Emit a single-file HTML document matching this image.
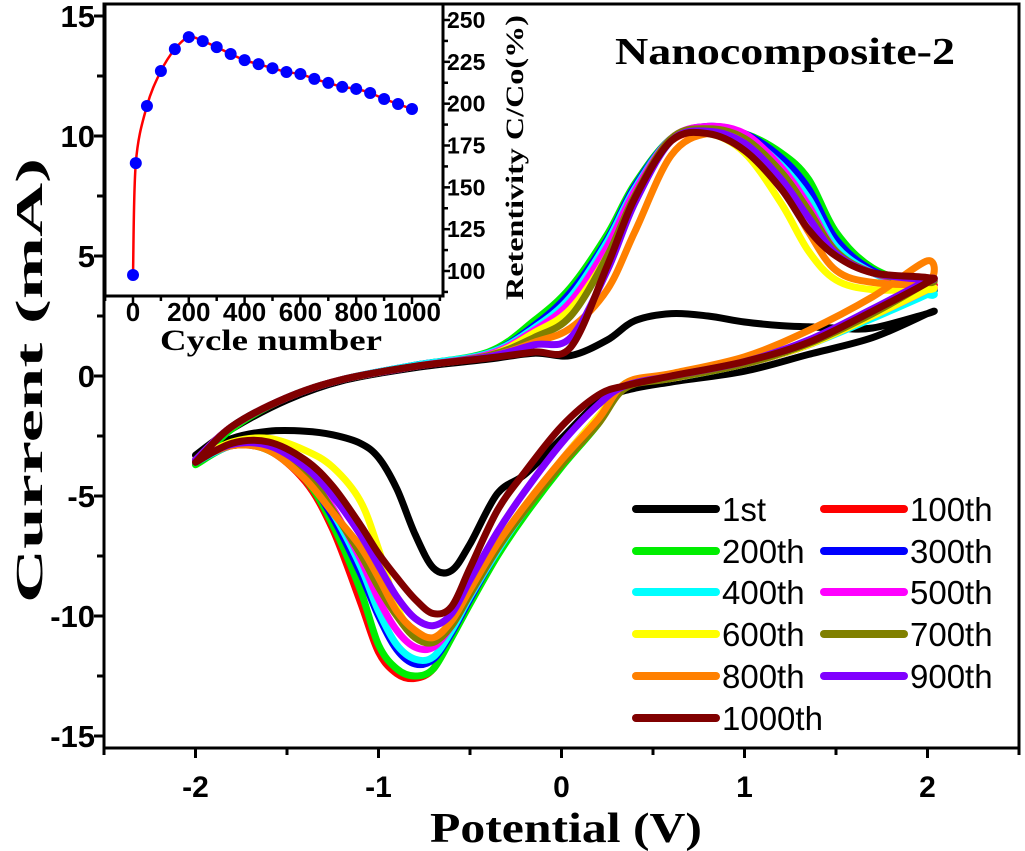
<!DOCTYPE html>
<html><head><meta charset="utf-8"><style>
html,body{margin:0;padding:0;background:#fff;}
svg{display:block;}
.sans{font-family:"Liberation Sans",Arial,sans-serif;font-weight:bold;}
.serif{font-family:"Liberation Serif","Times New Roman",serif;font-weight:bold;}
</style></head><body>
<svg id="chart" width="1025" height="851" viewBox="0 0 1025 851" xmlns="http://www.w3.org/2000/svg">
<g id="curves"></g>
<g id="axes"></g>
<g id="inset"></g>
<g id="legend"></g>
<text class="serif" x="615" y="64" font-size="38" textLength="340" lengthAdjust="spacingAndGlyphs">Nanocomposite-2</text>
<text class="serif" x="430" y="842" font-size="42" textLength="272" lengthAdjust="spacingAndGlyphs">Potential (V)</text>
<text class="serif" transform="translate(42,603) rotate(-90)" font-size="38" textLength="445" lengthAdjust="spacingAndGlyphs">Current (mA)</text>
</svg>
<script>
const EF = [-2,-1.8,-1.5,-1.2,-0.8,-0.4,-0.15,0.05,0.25,0.4,0.6,0.8,1.0,1.2,1.35,1.5,1.7,2.0];
const ER = [2,1.7,1.35,1,0.6,0.35,0.2,0,-0.2,-0.35,-0.5,-0.6,-0.7,-0.8,-0.9,-1.0,-1.1,-1.25,-1.4,-1.6,-1.8,-2];
const seriesNames = ["1st","100th","200th","300th","400th","500th","600th","700th","800th","900th","1000th"];
const seriesColors = ["#000000","#ff0000","#00ee00","#0000ff","#00ffff","#ff00ff","#ffff00","#808000","#ff8000","#8000ff","#800000"];
const fwd1 = [-3.3,-2.2,-1.0,-0.2,0.35,0.7,0.95,0.85,1.5,2.3,2.6,2.5,2.25,2.1,2.05,2.0,2.0,2.6];
const fwd100 = [-3.5,-2.1,-0.9,-0.15,0.4,0.85,1.7,3.2,5.5,7.8,9.8,10.2,10.0,9.0,7.6,5.6,4.4,3.9];
const fwd200 = [-3.7,-2.2,-0.9,-0.15,0.45,1.0,2.3,3.7,5.9,8.0,9.9,10.3,10.1,9.3,8.2,6.0,4.5,3.6];
const fwd300 = [-3.6,-2.1,-0.9,-0.15,0.45,0.95,2.1,3.5,5.7,7.9,9.9,10.4,10.1,9.1,7.8,5.7,4.4,3.6];
const fwd400 = [-3.6,-2.1,-0.9,-0.15,0.45,0.95,2.0,3.3,5.6,7.8,9.9,10.3,10.0,8.8,7.4,5.4,4.3,3.4];
const fwd500 = [-3.5,-2.1,-0.9,-0.15,0.4,0.9,1.9,3.1,5.4,7.7,9.9,10.4,10.1,8.7,7.1,5.2,4.3,3.7];
const fwd600 = [-3.5,-2.1,-0.9,-0.15,0.4,0.85,1.8,2.8,5.0,7.4,9.8,10.1,9.3,7.2,5.2,4.0,3.6,3.6];
const fwd700 = [-3.5,-2.1,-0.9,-0.15,0.4,0.85,1.6,2.5,5.0,7.5,9.9,10.3,9.9,8.5,6.9,5.2,4.3,3.9];
const fwd800 = [-3.5,-2.1,-0.9,-0.15,0.4,0.8,1.4,2.0,3.6,6.0,9.2,10.1,9.7,8.0,6.0,4.4,3.9,3.9];
const fwd900 = [-3.5,-2.1,-0.9,-0.15,0.4,0.8,1.3,1.6,4.4,7.2,9.8,10.2,9.7,8.2,6.6,5.1,4.3,4.0];
const fwd1000 = [-3.6,-2.1,-0.9,-0.15,0.4,0.75,1.0,1.2,4.6,7.4,9.8,10.1,9.4,7.8,6.1,5.0,4.3,4.1];
const rev1 = [2.6,1.6,0.9,0.2,-0.25,-0.6,-1.1,-2.6,-4.1,-4.9,-7.0,-8.1,-8.0,-6.6,-4.7,-3.4,-2.8,-2.45,-2.3,-2.3,-2.6,-3.3];
const rev100 = [3.6,2.5,1.3,0.5,-0.1,-0.4,-1.8,-3.6,-5.6,-7.3,-9.3,-10.8,-12.2,-12.6,-12.4,-11.5,-9.4,-6.4,-4.4,-3.1,-2.9,-3.5];
const rev200 = [3.5,2.5,1.3,0.5,-0.1,-0.3,-2.0,-3.8,-5.8,-7.5,-9.5,-10.9,-12.2,-12.5,-12.2,-11.2,-8.9,-6.2,-4.3,-3.1,-2.9,-3.7];
const rev300 = [3.6,2.5,1.3,0.5,-0.1,-0.4,-1.8,-3.6,-5.6,-7.3,-9.3,-10.7,-11.8,-12.0,-11.4,-10.0,-8.2,-5.9,-4.2,-3.0,-2.9,-3.6];
const rev400 = [3.4,2.4,1.3,0.5,-0.1,-0.4,-1.8,-3.6,-5.6,-7.3,-9.2,-10.6,-11.7,-11.8,-11.2,-9.8,-7.9,-5.7,-4.1,-3.0,-2.9,-3.6];
const rev500 = [3.6,2.5,1.3,0.5,-0.1,-0.4,-1.7,-3.5,-5.5,-7.2,-9.1,-10.4,-11.3,-11.3,-10.6,-9.3,-7.6,-5.5,-4.0,-2.95,-2.9,-3.5];
const rev600 = [3.6,2.5,1.3,0.5,-0.1,-0.4,-1.7,-3.5,-5.4,-7.0,-8.9,-10.2,-11.0,-10.8,-9.6,-7.2,-5.2,-3.8,-3.1,-2.6,-2.75,-3.5];
const rev700 = [3.9,2.6,1.35,0.5,-0.1,-0.5,-2.0,-3.7,-5.6,-7.2,-9.1,-10.4,-11.1,-10.9,-10.0,-8.8,-7.4,-5.6,-4.0,-3.0,-2.9,-3.5];
const rev800 = [4.8,3.3,1.9,0.8,0.1,-0.3,-1.8,-3.5,-5.4,-7.0,-8.9,-10.2,-10.9,-10.6,-9.8,-8.4,-7.1,-5.7,-4.3,-3.1,-2.9,-3.5];
const rev900 = [4.0,2.8,1.5,0.6,0,-0.4,-1.2,-2.8,-4.8,-6.5,-8.5,-9.9,-10.4,-10.1,-9.2,-7.9,-6.6,-5.0,-3.8,-2.9,-2.85,-3.5];
const rev1000 = [3.9,2.7,1.4,0.6,0,-0.4,-0.8,-2.1,-4.0,-5.6,-8.0,-9.6,-9.9,-9.3,-8.4,-7.4,-6.2,-4.6,-3.5,-2.75,-2.8,-3.6];
const fwdAll = [fwd1,fwd100,fwd200,fwd300,fwd400,fwd500,fwd600,fwd700,fwd800,fwd900,fwd1000];
const revAll = [rev1,rev100,rev200,rev300,rev400,rev500,rev600,rev700,rev800,rev900,rev1000];
const xTicks = [-2,-1,0,1,2];
const xTickLabels = ["-2","-1","0","1","2"];
const yTicks = [15,10,5,0,-5,-10,-15];
const yTickLabels = ["15","10","5","0","-5","-10","-15"];
const cycles = [0,10,50,100,150,200,250,300,350,400,450,500,550,600,650,700,750,800,850,900,950,1000];
const retention = [97.6,164.5,198.6,219.5,232.6,239.8,237.4,233.8,229.7,226,223.6,221.2,218.9,217.7,214.8,212.4,210,208.8,206.4,202.8,199.8,196.8];
const insetXTicks = [0,200,400,600,800,1000];
const insetYTicks = [100,125,150,175,200,225,250];

const NS = "http://www.w3.org/2000/svg";
function mk(tag, attrs, parent){const e=document.createElementNS(NS,tag);for(const k in attrs)e.setAttribute(k,attrs[k]);parent.appendChild(e);return e;}
const X0=104, X1=1019, Y0=4, Y1=748;
const sx = v => X0 + (v + 2.5) / 5 * (X1 - X0);
const sy = i => Y0 + (15.5 - i) / 31 * (Y1 - Y0);
function smoothPath(pts){
  let d = "M" + pts[0][0].toFixed(1) + "," + pts[0][1].toFixed(1);
  const n = pts.length;
  for (let i=0;i<n-1;i++){
    const p0 = pts[Math.max(0,i-1)], p1=pts[i], p2=pts[i+1], p3=pts[Math.min(n-1,i+2)];
    const c1=[p1[0]+(p2[0]-p0[0])/6, p1[1]+(p2[1]-p0[1])/6];
    const c2=[p2[0]-(p3[0]-p1[0])/6, p2[1]-(p3[1]-p1[1])/6];
    d += "C"+c1[0].toFixed(1)+","+c1[1].toFixed(1)+" "+c2[0].toFixed(1)+","+c2[1].toFixed(1)+" "+p2[0].toFixed(1)+","+p2[1].toFixed(1);
  }
  return d;
}
const curves = document.getElementById("curves");
for (let s=0;s<seriesNames.length;s++){
  const pts=[];
  for (let k=0;k<EF.length;k++) pts.push([sx(EF[k]), sy(fwdAll[s][k])]);
  for (let k=0;k<ER.length;k++) pts.push([sx(ER[k]), sy(revAll[s][k])]);
  const p = mk("path",{d:smoothPath(pts),fill:"none",stroke:seriesColors[s],"stroke-width":7,"stroke-linejoin":"round","stroke-linecap":"round"},curves);
  
  
}
const axes=document.getElementById("axes");
const frame = mk("rect",{x:X0,y:Y0,width:X1-X0,height:Y1-Y0,fill:"none",stroke:"#000","stroke-width":3},axes);


for (let v=-2.5; v<=2.5001; v+=0.5){
  const major = Math.abs(v-Math.round(v))<1e-6;
  const t = mk("line",{x1:sx(v),x2:sx(v),y1:Y1,y2:Y1+(major?10:7),stroke:"#000","stroke-width":3},axes);
  
  
}
for (let i=0;i<xTicks.length;i++){
  const t = mk("text",{x:sx(xTicks[i]),y:797,"font-size":30,"text-anchor":"middle",class:"sans"},axes);
  t.textContent = xTickLabels[i];
  
  
}
for (let v=-15; v<=15.001; v+=2.5){
  const major = Math.abs(v/5-Math.round(v/5))<1e-6;
  const t = mk("line",{x1:X0,x2:X0-(major?10:7),y1:sy(v),y2:sy(v),stroke:"#000","stroke-width":3},axes);
  
  
}
for (let i=0;i<yTicks.length;i++){
  const t = mk("text",{x:95,y:sy(yTicks[i])+11,"font-size":31,"text-anchor":"end",class:"sans"},axes);
  t.textContent = yTickLabels[i];
  
  
}
const inset=document.getElementById("inset");
const IX0=105, IX1=443, IY0=4, IY1=296;
const ix = c => 133 + c/1000*(412-133);
const iy = r => 271 - (r-100)*(251/150);
const ibg = mk("rect",{x:IX0,y:IY0,width:IX1-IX0,height:IY1-IY0,fill:"#fff",stroke:"#000","stroke-width":3},inset);


for (let c=-100;c<=1100;c+=100){
  const major = c%200===0;
  if (ix(c)<IX0 || ix(c)>IX1) continue;
  const t = mk("line",{x1:ix(c),x2:ix(c),y1:IY1,y2:IY1+(major?8:5),stroke:"#000","stroke-width":2.5},inset);
  
  
}
for (let i=0;i<insetXTicks.length;i++){
  const t = mk("text",{x:ix(insetXTicks[i]),y:321,"font-size":26,"text-anchor":"middle",class:"sans"},inset);
  t.textContent = String(insetXTicks[i]);
  
  
}
for (let r=87.5;r<=262.5;r+=12.5){
  if (iy(r)<IY0 || iy(r)>IY1) continue;
  const major = Math.abs(r/25-Math.round(r/25))<1e-6;
  const t = mk("line",{x1:IX1,x2:IX1+(major?7:5),y1:iy(r),y2:iy(r),stroke:"#000","stroke-width":2.5},inset);
  
  
}
for (let i=0;i<insetYTicks.length;i++){
  const t = mk("text",{x:447,y:iy(insetYTicks[i])+8,"font-size":23,"text-anchor":"start",class:"sans"},inset);
  t.textContent = String(insetYTicks[i]);
  
  
}
const ixt = mk("text",{x:160,y:350,"font-size":30,class:"serif",textLength:222,lengthAdjust:"spacingAndGlyphs"},inset);
ixt.textContent="Cycle number";


const iyt = mk("text",{transform:"translate(523,300) rotate(-90)","font-size":25,class:"serif",textLength:285,lengthAdjust:"spacingAndGlyphs"},inset);
iyt.textContent="Retentivity C/Co(%)";


const ipts = cycles.map((c,k)=>[ix(c),iy(retention[k])]);
const iline = mk("path",{d:smoothPath(ipts),fill:"none",stroke:"#ff0000","stroke-width":2.5},inset);


for (let k=0;k<cycles.length;k++){
  const dot = mk("circle",{cx:ix(cycles[k]),cy:iy(retention[k]),r:6,fill:"#0000ff"},inset);
  
  
}
const legend=document.getElementById("legend");
const rowsY=[509,551,592,634,676,718];
for (let s=0;s<seriesNames.length;s++){
  const col = s%2, row = Math.floor(s/2);
  const lx = col===0?636:824, y=rowsY[row];
  const ln = mk("line",{x1:lx,x2:lx+80,y1:y,y2:y,stroke:seriesColors[s],"stroke-width":8,"stroke-linecap":"round"},legend);
  
  
  const tx = mk("text",{x:lx+86,y:y+12,"font-size":33,style:"font-family:'Liberation Sans',Arial,sans-serif;font-weight:normal"},legend);
  tx.textContent = seriesNames[s];
  
  
}
</script>
</body></html>
